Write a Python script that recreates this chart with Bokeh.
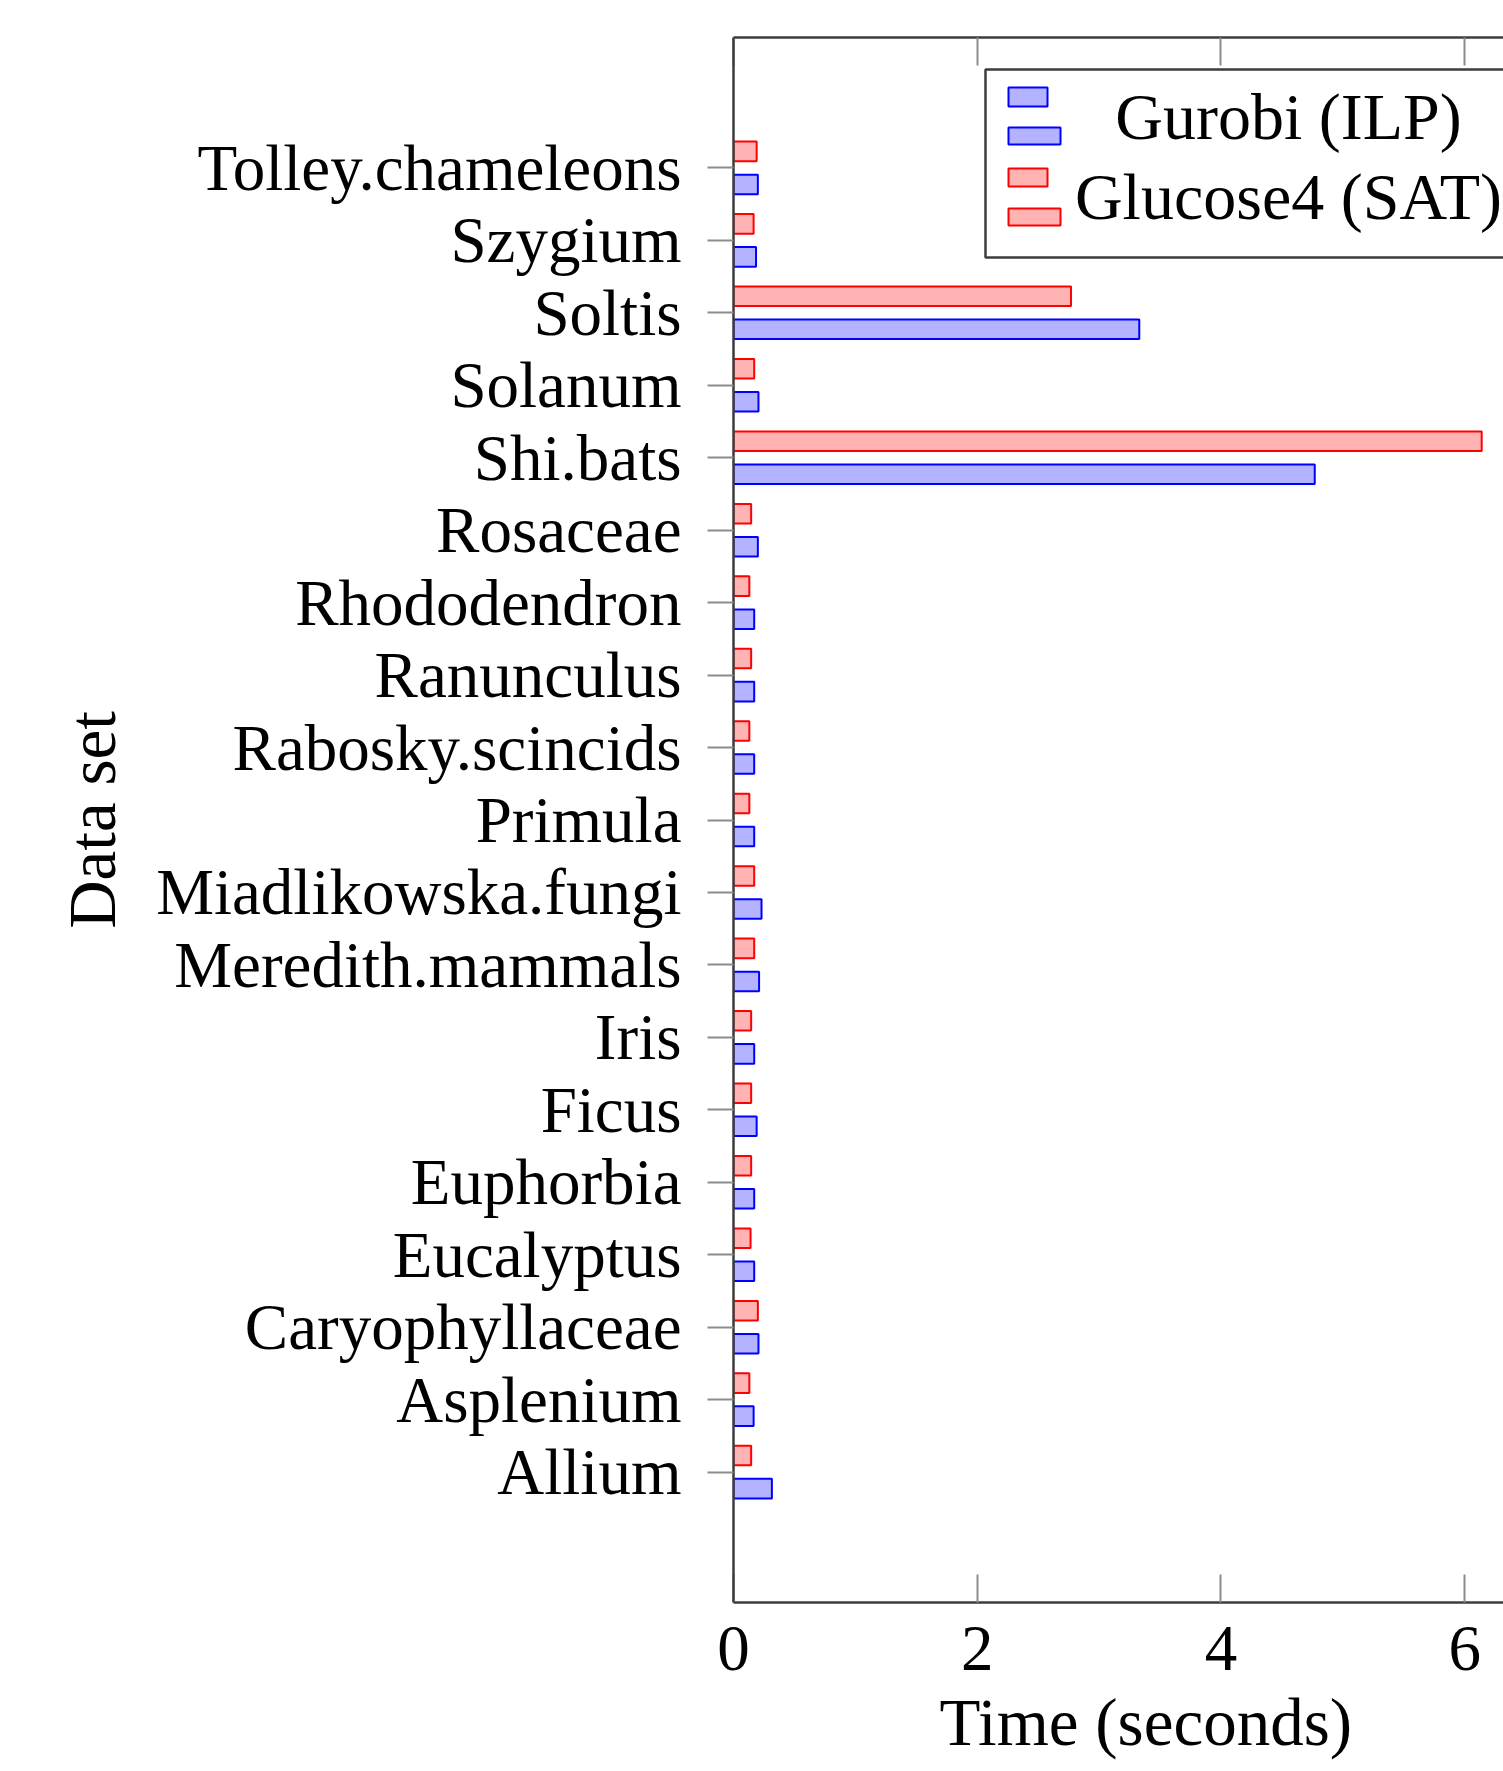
from bokeh.plotting import figure
from bokeh.models import (ColumnDataSource, Range1d, FixedTicker, LinearAxis,
                          BoxAnnotation, Label, Title)
from bokeh.transform import dodge
from bokeh.embed import file_html
from bokeh.resources import INLINE

# ---------------- data (top of chart to bottom) ----------------
datasets = ["Tolley.chameleons", "Szygium", "Soltis", "Solanum", "Shi.bats",
            "Rosaceae", "Rhododendron", "Ranunculus", "Rabosky.scincids",
            "Primula", "Miadlikowska.fungi", "Meredith.mammals", "Iris",
            "Ficus", "Euphorbia", "Eucalyptus", "Caryophyllaceae",
            "Asplenium", "Allium"]
gurobi_ilp = [0.20, 0.185, 3.33, 0.205, 4.77, 0.20, 0.17, 0.17, 0.17, 0.17,
              0.23, 0.21, 0.17, 0.19, 0.17, 0.17, 0.205, 0.165, 0.315]
glucose4_sat = [0.19, 0.165, 2.77, 0.17, 6.14, 0.145, 0.13, 0.145, 0.13, 0.13,
                0.17, 0.17, 0.145, 0.145, 0.145, 0.14, 0.20, 0.13, 0.145]
series_names = ["Gurobi (ILP)", "Glucose4 (SAT)"]
x_ticks = [0, 2, 4, 6]
x_title = "Time (seconds)"
y_title = "Data set"

# ---------------- styling ----------------
FONT = "Liberation Serif"
FRAME = "#3c3c3c"
TICK = "#8c8c8c"
BLUE_FILL, BLUE_LINE = "#b3b3ff", "#0000ff"
RED_FILL, RED_LINE = "#ffb3b3", "#ff0000"

n = len(datasets)
ypos = [n - 1 - i for i in range(n)]
source = ColumnDataSource(dict(y=ypos, name=datasets,
                               gurobi=gurobi_ilp, glucose=glucose4_sat))

p = figure(width=1503, height=1771, output_backend="svg", toolbar_location=None,
           x_range=Range1d(0, 6.319), y_range=Range1d(-1.8, 19.8),
           min_border_left=733, min_border_right=0,
           min_border_top=37, min_border_bottom=169)
p.xgrid.visible = False
p.ygrid.visible = False
p.background_fill_color = "white"
p.border_fill_color = "white"
p.outline_line_color = None

bar_h = 0.27
off = 0.228
p.hbar(y=dodge("y", -off, range=p.y_range), left=0, right="gurobi", height=bar_h,
       source=source, fill_color=BLUE_FILL, line_color=BLUE_LINE, line_width=2)
p.hbar(y=dodge("y", off, range=p.y_range), left=0, right="glucose", height=bar_h,
       source=source, fill_color=RED_FILL, line_color=RED_LINE, line_width=2)

# x axis (bottom)
xa = p.xaxis[0]
xa.ticker = FixedTicker(ticks=x_ticks)
xa.major_tick_in = 28
xa.major_tick_out = 0
xa.minor_tick_in = 0
xa.minor_tick_out = 0
xa.major_tick_line_color = TICK
xa.major_tick_line_width = 2
xa.axis_line_color = FRAME
xa.axis_line_width = 2.5
xa.major_label_text_font = FONT
xa.major_label_text_font_size = "65px"
xa.major_label_text_color = "black"
xa.major_label_standoff = 24

# x title, placed like the reference (slightly right of centre)
xt = Title(text=x_title, align="left", offset=206, standoff=21,
           text_font=FONT, text_font_size="67px", text_font_style="normal",
           text_color="black")
p.add_layout(xt, "below")

# mirrored ticks on top (no labels drawn)
top = LinearAxis(ticker=FixedTicker(ticks=x_ticks))
top.major_tick_in = 28
top.major_tick_out = 0
top.minor_tick_in = 0
top.minor_tick_out = 0
top.major_tick_line_color = TICK
top.major_tick_line_width = 2
top.axis_line_color = FRAME
top.axis_line_width = 2.5
top.major_label_text_font_size = "8px"
top.major_label_text_color = None
top.major_label_standoff = 0
p.add_layout(top, "above")

# y axis
ya = p.yaxis[0]
ya.ticker = FixedTicker(ticks=ypos)
ya.major_label_overrides = {y: nm for y, nm in zip(ypos, datasets)}
ya.major_tick_in = 0
ya.major_tick_out = 26
ya.minor_tick_in = 0
ya.minor_tick_out = 0
ya.major_tick_line_color = TICK
ya.major_tick_line_width = 2
ya.axis_line_color = FRAME
ya.axis_line_width = 2.5
ya.major_label_text_font = FONT
ya.major_label_text_font_size = "65px"
ya.major_label_text_color = "black"
ya.major_label_standoff = 26
ya.axis_label = y_title
ya.axis_label_text_font = FONT
ya.axis_label_text_font_size = "67px"
ya.axis_label_text_font_style = "normal"
ya.axis_label_text_color = "black"
ya.axis_label_standoff = 24

# ---------------- legend (screen units, relative to frame bottom-left) ----------------
def box(l, r, t, b, fill, line, lw=2):
    return BoxAnnotation(left=l, right=r, top=t, bottom=b,
                         left_units="screen", right_units="screen",
                         top_units="screen", bottom_units="screen",
                         fill_color=fill, fill_alpha=1.0,
                         line_color=line, line_alpha=1.0, line_width=lw)

p.add_layout(box(252, 790, 1533, 1345, "white", FRAME, 2.5))
p.add_layout(box(275, 314, 1515, 1496, BLUE_FILL, BLUE_LINE))
p.add_layout(box(275, 327, 1475, 1458, BLUE_FILL, BLUE_LINE))
p.add_layout(box(275, 314, 1434, 1416, RED_FILL, RED_LINE))
p.add_layout(box(275, 327, 1394, 1377, RED_FILL, RED_LINE))
for txt, yy in zip(series_names, [1486, 1406]):
    p.add_layout(Label(x=555, y=yy, x_units="screen", y_units="screen", text=txt,
                       text_align="center", text_baseline="alphabetic",
                       text_font=FONT, text_font_size="66px", text_color="black"))

open("out.html", "w").write(file_html(p, INLINE))
